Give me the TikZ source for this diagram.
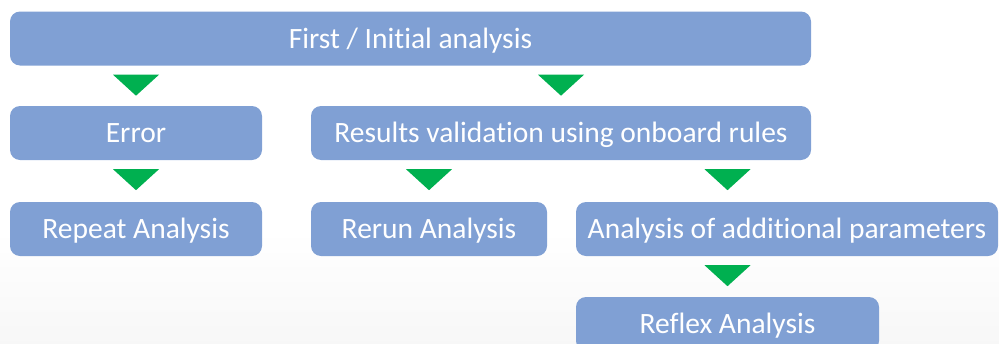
\documentclass[tikz,border=0pt]{standalone}
\usepackage{fontspec}
\setmainfont[Ligatures=CommonOff]{Carlito}
\usetikzlibrary{calc}

\definecolor{boxblue}{RGB}{128,160,212}
\definecolor{flowgreen}{RGB}{0,176,80}

\tikzset{
  stepbox/.style={rectangle, rounded corners=10pt, fill=boxblue, text=white,
    minimum height=54pt, inner sep=0pt, text height=19pt, text depth=0pt,
    font=\fontsize{29.5}{35}\selectfont},
}

% green down triangle below node #1, centred on node #2
\newcommand{\flowtri}[2]{%
  \fill[flowgreen] ($(#1.south -| #2)+(-23,9)$) -- ++(46,0) -- ++(-23,21) -- cycle;}

\begin{document}
\begin{tikzpicture}[x=1pt, y=-1pt]
\useasboundingbox (0,0) rectangle (999,343);
\clip (0,0) rectangle (999,343);

% faint background
\shade[top color=white, bottom color=gray!6] (0,230) rectangle (999,343);

% the boxes
\node[stepbox, minimum width=801pt] (first) at (410.5,38.5) {First / Initial analysis};
\node[stepbox, minimum width=252pt] (error) at (136,133) {Error};
\node[stepbox, minimum width=500pt] (valid) at (561,133) {Results validation using onboard rules};
\node[stepbox, minimum width=252pt] (repeat) at (136,229) {Repeat Analysis};
\node[stepbox, minimum width=236pt] (rerun) at (429,229) {Rerun Analysis};
\node[stepbox, minimum width=422pt] (params) at (787,229) {Analysis of additional parameters};
\node[stepbox, minimum width=303pt] (reflex) at (727.5,324) {Reflex Analysis};

% the arrows
\flowtri{first}{error}
\flowtri{first}{valid}
\flowtri{error}{repeat}
\flowtri{valid}{rerun}
\flowtri{valid}{reflex}
\flowtri{params}{reflex}
\end{tikzpicture}
\end{document}
